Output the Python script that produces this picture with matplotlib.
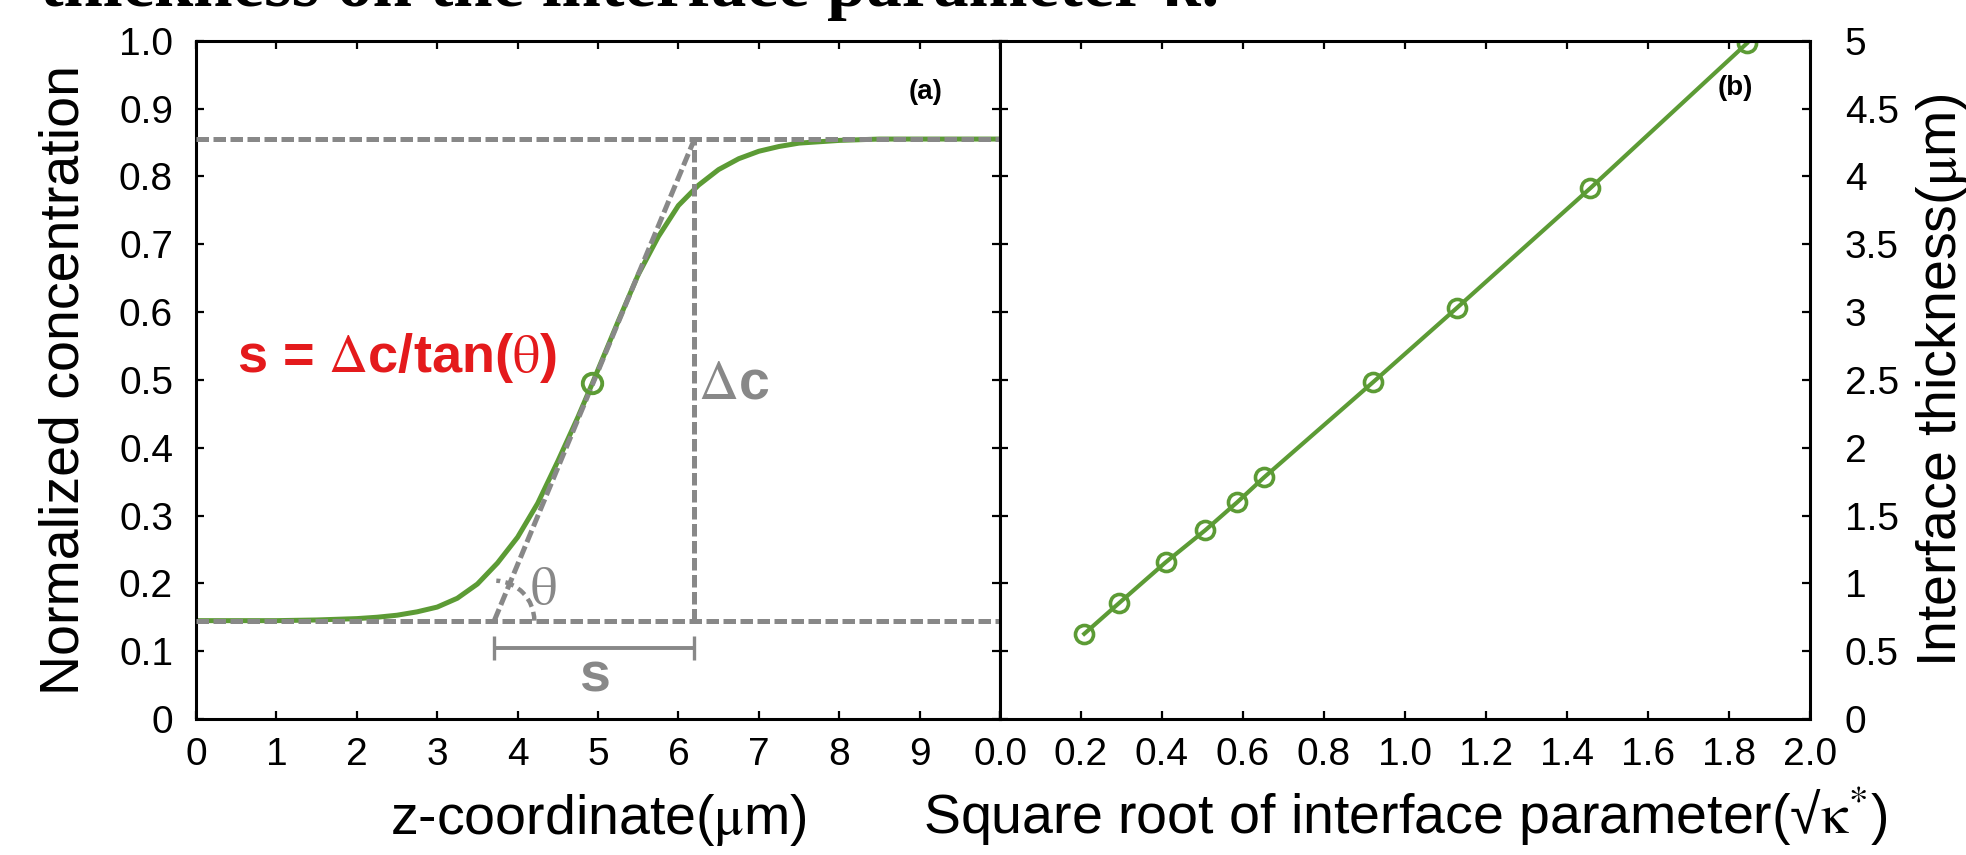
import matplotlib
matplotlib.use("Agg")
import matplotlib.pyplot as plt
from matplotlib.patches import Arc

plt.rcParams['font.family'] = ['Liberation Sans', 'DejaVu Sans']
plt.rcParams['mathtext.fontset'] = 'stix'

# (a) concentration profile across the interface
z = [0, 0.5, 1.0, 1.5, 2.0, 2.25, 2.5, 2.75, 3.0, 3.25, 3.5, 3.75, 4.0, 4.25,
     4.5, 4.75, 4.93, 5.25, 5.5, 5.75, 6.0, 6.25, 6.5, 6.75, 7.0, 7.25, 7.5,
     8.0, 8.5, 9.0, 10.0]
conc = [0.145, 0.145, 0.145, 0.146, 0.148, 0.150, 0.153, 0.158, 0.165, 0.178,
        0.199, 0.230, 0.268, 0.318, 0.380, 0.445, 0.495, 0.586, 0.655, 0.711,
        0.757, 0.787, 0.810, 0.826, 0.837, 0.844, 0.849, 0.853, 0.855, 0.855,
        0.855]
mid_z = [4.93]
mid_c = [0.495]
c_low, c_high = 0.145, 0.855
z_foot, z_top = 3.71, 6.20
s_bar_c = 0.105

# (b) interface thickness vs sqrt of interface parameter
sqrt_kappa = [0.208, 0.293, 0.409, 0.507, 0.585, 0.652, 0.922, 1.128, 1.458, 1.844]
thickness = [0.628, 0.852, 1.155, 1.392, 1.596, 1.781, 2.485, 3.03, 3.914, 4.98]

xticks_a = list(range(11))
xlabels_a = [str(i) for i in range(10)] + ['']
yticks_a = [i / 10 for i in range(11)]
ylabels_a = ['0', '0.1', '0.2', '0.3', '0.4', '0.5', '0.6', '0.7', '0.8', '0.9', '1.0']
xticks_b = [i / 5 for i in range(11)]
xlabels_b = ['0.0', '0.2', '0.4', '0.6', '0.8', '1.0', '1.2', '1.4', '1.6', '1.8', '2.0']
yticks_b = [i / 2 for i in range(11)]
ylabels_b = ['0', '0.5', '1', '1.5', '2', '2.5', '3', '3.5', '4', '4.5', '5']

green = '#5c9b35'
grey = '#888888'
red = '#e41a1c'
dash = (0, (2.5, 0.9))

W, H = 1966, 855
fig = plt.figure(figsize=(W / 100, H / 100), dpi=100)
ax1 = fig.add_axes([196 / W, 136 / H, 804 / W, 678.3 / H])
ax2 = fig.add_axes([1000 / W, 136 / H, 810 / W, 678.3 / H])

# title line cut off at the top of the picture
fig.text(40 / W, 1 - 6 / H, 'thickness on the interface parameter κ.', fontsize=51,
         fontweight='bold', family='Liberation Serif', va='baseline')

# ---- panel (a)
ax1.plot(z, conc, color=green, lw=3.6, zorder=2)
ax1.plot([0, 10], [c_high, c_high], color=grey, lw=3.6, ls=dash, zorder=3)
ax1.plot([0, 10], [c_low, c_low], color=grey, lw=3.6, ls=dash, zorder=3)
ax1.plot([z_top, z_top], [c_low, c_high], color=grey, lw=3.6, ls=dash, zorder=3)
ax1.plot([z_foot, z_top], [c_low, c_high], color=grey, lw=3.6, ls=dash, zorder=3)
ax1.plot(mid_z, mid_c, 'o', ms=14, mfc='none', mec=green, mew=2.8, zorder=4)
ax1.add_patch(Arc((z_foot, c_low), 2 * 40 / 80.4, 2 * 40 / 678.3, theta1=0, theta2=67,
                  color=grey, lw=3.2, ls=(0, (2.0, 1.2)), zorder=3))
ax1.errorbar([(z_foot + z_top) / 2], [s_bar_c], xerr=[(z_top - z_foot) / 2], fmt='none',
             ecolor=grey, elinewidth=2.8, capsize=8.5, capthick=2.4)

ax1.text(0.51, 0.512, r's = $\mathrm{\Delta}$c/tan($\mathrm{\theta}$)', color=red,
         fontsize=39, fontweight='bold', va='baseline', ha='left')
ax1.text(6.24, 0.472, r'$\mathrm{\Delta}$c', color=grey, fontsize=40,
         fontweight='bold', va='baseline', ha='left')
ax1.text(4.15, 0.17, r'$\mathrm{\theta}$', color=grey, fontsize=38,
         va='baseline', ha='left')
ax1.text((z_foot + z_top) / 2, 0.04, 's', color=grey, fontsize=40,
         fontweight='bold', va='baseline', ha='center')
ax1.text(0.908, 0.925, '(a)', transform=ax1.transAxes, fontsize=20,
         fontweight='bold', ha='center', va='center')

ax1.set_xlim(0, 10)
ax1.set_ylim(0, 1)
ax1.set_xticks(xticks_a)
ax1.set_xticklabels(xlabels_a)
ax1.set_yticks(yticks_a)
ax1.set_yticklabels(ylabels_a)
ax1.tick_params(direction='in', length=6, width=1.6, top=True, right=True,
                labelsize=28)
ax1.tick_params(axis='x', pad=13)
ax1.tick_params(axis='y', pad=16.5)
ax1.set_xlabel(r'z-coordinate($\mathrm{\mu}$m)', fontsize=40, va='baseline')
ax1.xaxis.set_label_coords(0.5, -0.170)
ax1.set_ylabel('Normalized concentration', fontsize=40)
ax1.yaxis.label.set_va('baseline')
ax1.yaxis.set_label_coords(-0.1464, 0.5)

# ---- panel (b)
ax2.plot(sqrt_kappa, thickness, color=green, lw=3.0, marker='o', ms=13,
         mfc='none', mec=green, mew=2.6)
ax2.text(0.908, 0.93, '(b)', transform=ax2.transAxes, fontsize=20,
         fontweight='bold', ha='center', va='center')

ax2.set_xlim(0, 2)
ax2.set_ylim(0, 5)
ax2.set_xticks(xticks_b)
ax2.set_xticklabels(xlabels_b)
ax2.set_yticks(yticks_b)
ax2.set_yticklabels(ylabels_b)
ax2.tick_params(direction='in', length=6, width=1.6, top=True, right=True,
                left=True, labelleft=False, labelright=True, labelsize=28)
ax2.tick_params(axis='x', pad=13)
ax2.tick_params(axis='y', pad=25)
ax2.set_xlabel(r'Square root of interface parameter(√$\mathrm{\kappa}^{*}$)',
               fontsize=40, va='baseline')
ax2.xaxis.set_label_coords(0.5, -0.170)
ax2.yaxis.set_label_position('right')
ax2.set_ylabel(r'Interface thickness($\mathrm{\mu}$m)', fontsize=40)
ax2.yaxis.label.set_va('baseline')
ax2.yaxis.set_label_coords(1.180, 0.5)

for ax in (ax1, ax2):
    for sp in ax.spines.values():
        sp.set_linewidth(2.2)

fig.savefig('out.png', dpi=100)
plt.close(fig)
